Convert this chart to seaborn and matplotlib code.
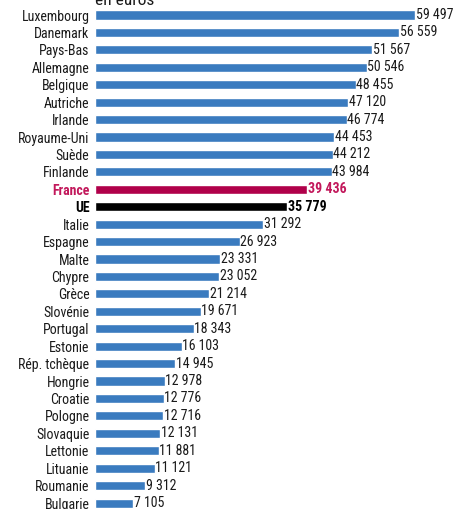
import matplotlib
matplotlib.use("Agg")
import matplotlib.pyplot as plt
import seaborn as sns
import pandas as pd

countries = ["Luxembourg", "Danemark", "Pays-Bas", "Allemagne", "Belgique", "Autriche",
             "Irlande", "Royaume-Uni", "Suède", "Finlande", "France", "UE", "Italie",
             "Espagne", "Malte", "Chypre", "Grèce", "Slovénie", "Portugal", "Estonie",
             "Rép. tchèque", "Hongrie", "Croatie", "Pologne", "Slovaquie", "Lettonie",
             "Lituanie", "Roumanie", "Bulgarie"]
values = [59497, 56559, 51567, 50546, 48455, 47120, 46774, 44453, 44212, 43984,
          39436, 35779, 31292, 26923, 23331, 23052, 21214, 19671, 18343, 16103,
          14945, 12978, 12776, 12716, 12131, 11881, 11121, 9312, 7105]
unit_label = "en euros"

BLUE = "#3a7bbf"
FRANCE = "#b0004a"
FRANCE_TXT = "#c2185b"
EU = "#000000"

def bar_color(c):
    if c == "France":
        return FRANCE
    if c == "UE":
        return EU
    return BLUE

palette = {c: bar_color(c) for c in countries}
df = pd.DataFrame({"pays": countries, "valeur": values})

sns.set_theme(style="white")
plt.rcParams["font.family"] = ["Roboto Condensed", "Liberation Sans", "DejaVu Sans"]

fig = plt.figure(figsize=(4.6, 5.09), dpi=100)
ax = fig.add_axes([95 / 460, 0, 1 - 95 / 460, 1])
sns.barplot(data=df, x="valeur", y="pays", hue="pays", palette=palette,
            orient="h", width=0.52, legend=False, ax=ax, saturation=1)

px_per_unit = 320 / 59497
ax.set_xlim(0, (460 - 95) / px_per_unit)
row_px = 17.43
top_px = 15
ax.set_ylim((509 - top_px) / row_px, -top_px / row_px)

for s in ax.spines.values():
    s.set_visible(False)
ax.set_xticks([])
ax.set_xlabel("")
ax.set_ylabel("")
ax.tick_params(axis="y", length=0, pad=4, labelsize=10)

def fmt(v):
    return f"{v:,}".replace(",", " ")

for i, (c, v) in enumerate(zip(countries, values)):
    if c == "France":
        col, w = FRANCE_TXT, "bold"
    elif c == "UE":
        col, w = "black", "bold"
    else:
        col, w = "#1a1a1a", "normal"
    ax.text(v + 100, i, fmt(v), va="center", ha="left", fontsize=10,
            color=col, fontweight=w)

for lab in ax.get_yticklabels():
    t = lab.get_text()
    if t == "France":
        lab.set_color(FRANCE_TXT)
        lab.set_fontweight("bold")
    elif t == "UE":
        lab.set_fontweight("bold")
        lab.set_color("black")
    else:
        lab.set_color("#1a1a1a")

ax.text(0, -0.57, unit_label, ha="left", va="baseline", fontsize=12.5, color="#1a1a1a")

fig.savefig("out.png", dpi=100)
